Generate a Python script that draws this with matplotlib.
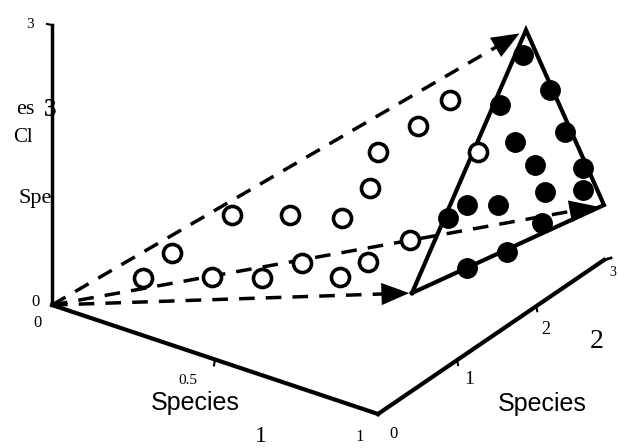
import numpy as np
import matplotlib
matplotlib.use("Agg")
import matplotlib.pyplot as plt

# geometry (pixel coords, y down)
origin = (52, 305)
z_top = (52, 25)
x_end = (378, 414)
y_end = (604, 260)
simplex = [(412, 293), (526, 30), (604, 205)]   # A (species 1), B (species 3), C (species 2)
arrow_tips = [(412, 293), (522, 32), (600, 206)]

open_x = [143, 172, 212, 232, 262, 290, 302, 342, 340, 368, 370, 378, 410, 418, 450, 478]
open_y = [278, 253, 277, 215, 278, 215, 263, 218, 277, 262, 188, 152, 240, 126, 100, 152]
filled_x = [523, 550, 500, 565, 515, 535, 583, 545, 583, 467, 498, 448, 542, 507, 467]
filled_y = [55, 90, 105, 132, 142, 165, 168, 192, 190, 205, 205, 218, 223, 252, 268]

x_ticks = [0.5]
y_ticks = [1, 2]

serif = "Liberation Serif"
sans = "Liberation Sans"

fig = plt.figure(figsize=(6.19, 4.48), dpi=100)
ax = fig.add_axes([0, 0, 1, 1])
ax.set_xlim(0, 619)
ax.set_ylim(448, 0)
ax.axis("off")

# axes of the 3d frame
ax.plot([origin[0], z_top[0]], [origin[1], z_top[1]], color="k", lw=2.5)
ax.plot([z_top[0], z_top[0] - 5], [z_top[1], z_top[1] - 1], color="k", lw=1.5)
ax.plot([origin[0], x_end[0]], [origin[1], x_end[1]], color="k", lw=3)
ax.plot([x_end[0], y_end[0]], [x_end[1], y_end[1]], color="k", lw=3)
ax.plot([y_end[0], y_end[0] + 7], [y_end[1], y_end[1] - 2], color="k", lw=2)

# small ticks
for t in x_ticks:
    px = origin[0] + t * (x_end[0] - origin[0])
    py = origin[1] + t * (x_end[1] - origin[1])
    ax.plot([px, px - 1], [py, py + 6], color="k", lw=1.5)
for t in y_ticks:
    px = x_end[0] + t / 3 * (y_end[0] - x_end[0]) * 1.05
    py = x_end[1] + t / 3 * (y_end[1] - x_end[1]) * 1.05
    ax.plot([px, px + 1], [py, py + 5], color="k", lw=1.5)

# dashed trajectories from origin to the simplex corners
for tip in arrow_tips:
    ax.plot([origin[0], tip[0] - 0.05 * (tip[0] - origin[0])],
            [origin[1], tip[1] - 0.05 * (tip[1] - origin[1])],
            color="k", lw=2.5, ls=(0, (4.5, 3.2)))
    dx, dy = tip[0] - origin[0], tip[1] - origin[1]
    ax.annotate("", xy=tip, xytext=(tip[0] - 0.07 * dx, tip[1] - 0.07 * dy),
                arrowprops=dict(arrowstyle="-|>,head_length=1.0,head_width=0.4",
                                color="k", lw=0, mutation_scale=20))

# simplex triangle
tri = simplex + [simplex[0]]
ax.plot([p[0] for p in tri], [p[1] for p in tri], color="k", lw=3,
        solid_joinstyle="miter")

# points
ax.plot(open_x, open_y, "o", ms=13, mfc="white", mec="k", mew=2.6)
ax.plot(filled_x, filled_y, "o", ms=14, mfc="k", mec="k")

# labels
ax.text(30, 24, "3", fontsize=11, family=serif, ha="center", va="center")
ax.text(35, 302, "0", fontsize=12, family=serif, ha="center", va="center")
ax.text(37, 323, "0", fontsize=12, family=serif, ha="center", va="center")
ax.text(25, 110, "es", fontsize=16, family=serif, ha="center", va="center")
ax.text(50, 110, "3", fontsize=18, family=serif, weight="bold", ha="center", va="center")
ax.text(23, 138, "Cl", fontsize=15, family=serif, ha="center", va="center")
ax.text(35, 198, "Spe", fontsize=16, family=serif, ha="center", va="center")
ax.text(188, 381, "0.5", fontsize=11, family=serif, ha="center", va="center")
ax.text(195, 403, "Species", fontsize=18, family=sans, ha="center", va="center")
ax.text(261, 437, "1", fontsize=17, family=serif, ha="center", va="center")
ax.text(360, 437, "1", fontsize=12, family=serif, ha="center", va="center")
ax.text(394, 434, "0", fontsize=12, family=serif, ha="center", va="center")
ax.text(469, 380, "1", fontsize=14, family=serif, ha="center", va="center")
ax.text(546, 330, "2", fontsize=13, family=serif, ha="center", va="center")
ax.text(597, 342, "2", fontsize=20, family=serif, ha="center", va="center")
ax.text(542, 404, "Species", fontsize=18, family=sans, ha="center", va="center")
ax.text(613, 273, "3", fontsize=10, family=serif, ha="center", va="center")

fig.savefig("out.png", dpi=100)
